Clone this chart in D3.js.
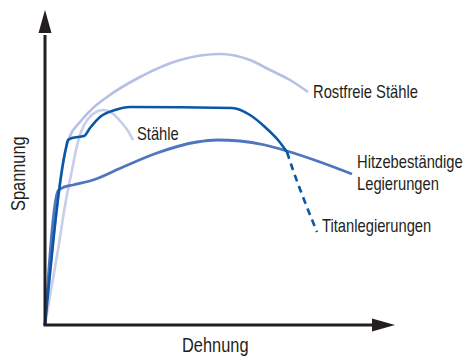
<!DOCTYPE html>
<html>
<head>
<meta charset="utf-8">
<script src="https://cdn.jsdelivr.net/npm/d3@7"></script>
<style>
  html, body { margin: 0; padding: 0; background: #fff; }
  svg { display: block; }
  text { font-family: "Liberation Sans", Arial, sans-serif; fill: #231f20; }
</style>
</head>
<body>
<svg id="chart" width="466" height="356"></svg>
<script>
// Stress–strain curves (strain, stress) in arbitrary units
const rostfreieStaehle = [[0,0],[21,177],[25,189],[35,203],[48,217],[62,228],[95,248],[135,265],[175,271],[205,265],[225,255],[245,245],[263,233]];
const staehle = [[0,0],[13,75],[21,125],[27,155],[31,175],[36,193],[43,206],[51,213],[58,215],[67,212],[76,203],[83,194],[88,185]];
const titanSolid = [[0,0],[21,177],[23,185],[27,187],[39,189],[45,197],[55,208],[70,215],[85,218],[187,217],[205,210],[220,198],[233,185],[242,173]];
const titanDashed = [[242,173],[248,155],[258,128],[272,93]];
const hitzebestaendig = [[0,0],[13,134],[17,137],[28,140],[48,145],[78,158],[112,172],[152,183],[172,185],[195,184],[220,180],[242,174],[275,163],[307,151]];

const axisTitles = { x: "Dehnung", y: "Spannung" };
const curveLabels = [
  { lines: ["Rostfreie Stähle"], at: [268, 227] },
  { lines: ["Stähle"], at: [92, 185] },
  { lines: ["Hitzebeständige", "Legierungen"], at: [312, 157] },
  { lines: ["Titanlegierungen"], at: [277, 93] }
];

const svg = d3.select("#chart");
const x = d3.scaleLinear().domain([0, 350]).range([45, 395]);
const y = d3.scaleLinear().domain([0, 315]).range([325, 10]);

// condensed lettering: regular sans squeezed horizontally
const narrow = 0.82;

const line = d3.line().x(d => x(d[0])).y(d => y(d[1])).curve(d3.curveMonotoneX);

function drawCurve(data, color, width, dash) {
  svg.append("path")
    .datum(data)
    .attr("d", line)
    .attr("fill", "none")
    .attr("stroke", color)
    .attr("stroke-width", width)
    .attr("stroke-linejoin", "round")
    .attr("stroke-dasharray", dash || null);
}

drawCurve(rostfreieStaehle, "#b7bfe5", 2.6);
drawCurve(staehle, "#c8cde8", 2.6);
drawCurve(hitzebestaendig, "#4f74c0", 2.8);
drawCurve(titanSolid, "#0b57a7", 2.6);
drawCurve(titanDashed, "#0b57a7", 2.6, "7,5");

// axes with arrow heads
const axisColor = "#231f20";
svg.append("line")
  .attr("x1", x(0)).attr("y1", y(0)).attr("x2", x(0)).attr("y2", y(290))
  .attr("stroke", axisColor).attr("stroke-width", 3);
svg.append("line")
  .attr("x1", x(0) - 1.5).attr("y1", y(0)).attr("x2", x(330)).attr("y2", y(0))
  .attr("stroke", axisColor).attr("stroke-width", 3);
svg.append("path")
  .attr("d", `M${x(0)},${y(315)} L${x(0) + 6.5},${y(292)} L${x(0) - 6.5},${y(292)} Z`)
  .attr("fill", axisColor);
svg.append("path")
  .attr("d", `M${x(350)},${y(0)} L${x(327)},${y(0) - 6.5} L${x(327)},${y(0) + 6.5} Z`)
  .attr("fill", axisColor);

// axis titles
svg.append("text")
  .attr("transform", `translate(182,352) scale(${narrow},1)`)
  .attr("font-size", 20)
  .text(axisTitles.x);
svg.append("text")
  .attr("transform", `translate(25,211) rotate(-90) scale(${narrow},1)`)
  .attr("font-size", 20)
  .text(axisTitles.y);

// curve labels
curveLabels.forEach(lab => {
  const t = svg.append("text")
    .attr("transform", `translate(${x(lab.at[0])},${y(lab.at[1])}) scale(${narrow},1)`)
    .attr("font-size", 18);
  lab.lines.forEach((s, i) => {
    t.append("tspan")
      .attr("x", 0)
      .attr("dy", i === 0 ? 0 : 22)
      .text(s);
  });
});
</script>
</body>
</html>
